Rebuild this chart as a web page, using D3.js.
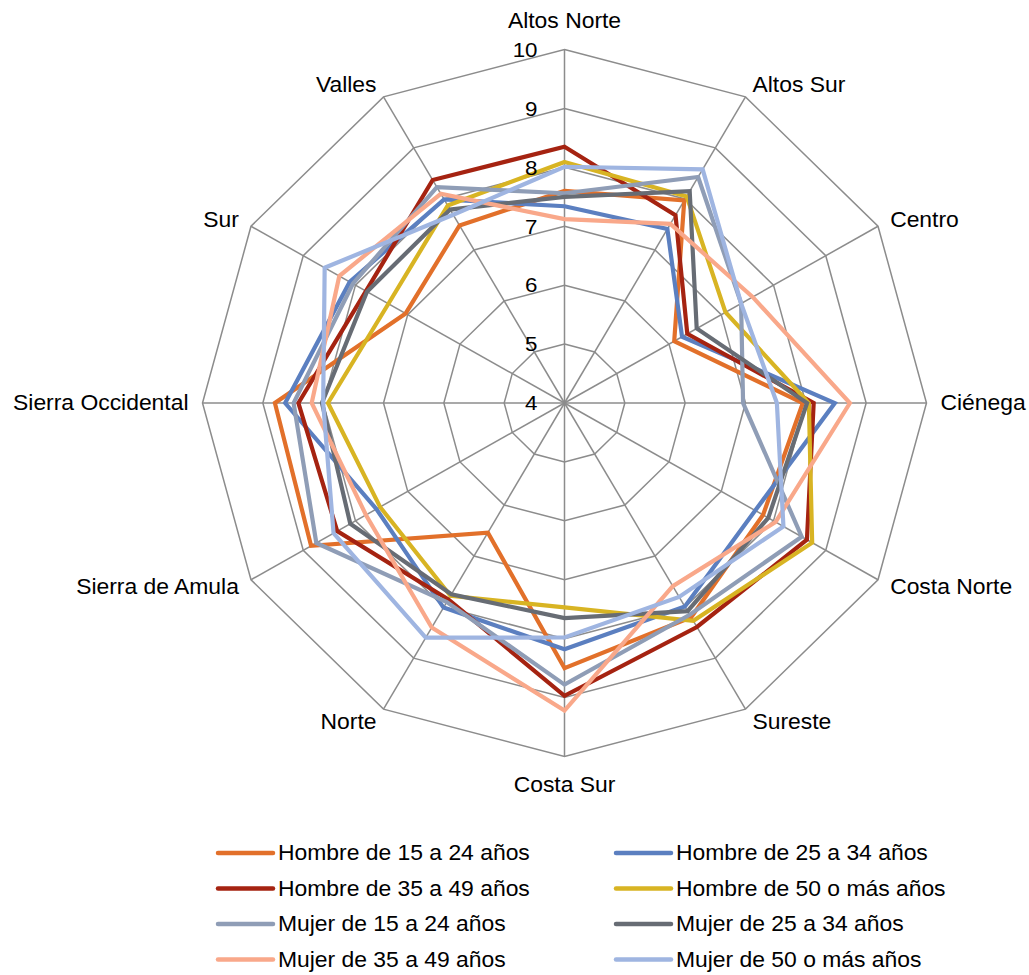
<!DOCTYPE html>
<html><head><meta charset="utf-8">
<script src="https://cdn.jsdelivr.net/npm/d3@7"></script>
<style>
html,body{margin:0;padding:0;background:#fff;}
svg{display:block;font-family:"Liberation Sans",Arial,sans-serif;}
</style></head>
<body><svg id="chart" width="1029" height="975"></svg>
<script>
const categories = ["Altos Norte","Altos Sur","Centro","Ciénega","Costa Norte","Sureste","Costa Sur","Norte","Sierra de Amula","Sierra Occidental","Sur","Valles"];
const tickValues = [4,5,6,7,8,9,10];
const seriesNames = ["Hombre de 15 a 24 años","Hombre de 25 a 34 años","Hombre de 35 a 49 años","Hombre de 50 o más años","Mujer de 15 a 24 años","Mujer de 25 a 34 años","Mujer de 35 a 49 años","Mujer de 50 o más años"];
const hombre15 = [7.6, 7.97, 6.1, 7.95, 7.8, 8.2, 8.5, 6.54, 8.85, 8.8, 7.04, 7.48];
const hombre25 = [7.34, 7.41, 6.25, 8.48, 7.65, 7.99, 8.18, 8.01, 7.6, 8.63, 8.11, 7.99];
const hombre35 = [8.35, 7.68, 6.35, 8.13, 8.64, 8.39, 8.97, 7.85, 8.35, 8.41, 7.8, 8.37];
const hombre50 = [8.09, 8.05, 7.08, 8.05, 8.74, 8.27, 7.47, 7.78, 7.53, 7.92, 7.37, 7.87];
const mujer15 = [7.56, 8.43, 7.38, 6.96, 8.54, 8.15, 8.78, 7.9, 8.75, 8.49, 8.05, 8.23];
const mujer25 = [7.5, 8.15, 6.53, 8.02, 7.9, 8.08, 7.65, 7.75, 8.1, 8.02, 7.78, 7.79];
const mujer35 = [7.12, 7.51, 7.6, 8.73, 8.04, 7.59, 9.22, 8.4, 7.8, 8.19, 8.31, 8.1];
const mujer50 = [8.01, 8.58, 7.38, 7.52, 8.19, 7.8, 7.98, 8.6, 8.42, 8.0, 8.59, 7.69];
const colors = ["#E2702A","#5B7FC0","#A52311","#D8B423","#8F9DB6","#676C74","#F9A88A","#9FB5E1"];

const seriesValues = [hombre15,hombre25,hombre35,hombre50,mujer15,mujer25,mujer35,mujer50];

const svg = d3.select("#chart");
const cx = 564.5, cy = 403, rx = 362, ry = 353.5;
const rScale = d3.scaleLinear().domain([4,10]).range([0,1]);
const angle = d3.scalePoint().domain(categories).range([0, 2*Math.PI*(11/12)]);
const px = (cat, v) => cx + rx * rScale(v) * Math.sin(angle(cat));
const py = (cat, v) => cy - ry * rScale(v) * Math.cos(angle(cat));

function addText(x, y, txt, anchor, size) {
  svg.append("text")
    .attr("transform", `translate(${x},${y}) scale(1.065,1)`)
    .attr("x",0).attr("y",0)
    .attr("text-anchor",anchor).attr("dominant-baseline","central")
    .attr("font-size",size).attr("fill","#000").text(txt);
}

const grid = svg.append("g");
tickValues.slice(1).forEach(t => {
  const pts = categories.map(c => [px(c,t), py(c,t)]);
  grid.append("path").attr("d", d3.line()(pts) + "Z")
    .attr("fill","none").attr("stroke","#8c8c8c").attr("stroke-width",1.5);
});
categories.forEach(c => {
  grid.append("line").attr("x1",cx).attr("y1",cy)
    .attr("x2",px(c,10)).attr("y2",py(c,10))
    .attr("stroke","#8c8c8c").attr("stroke-width",1.5);
});
// category labels
categories.forEach(c => {
  const a = angle(c), s = Math.sin(a), co = Math.cos(a);
  let x = px(c,10) + 14*s, y = py(c,10) - 14*co;
  let anchor = "middle";
  if (Math.abs(s) < 0.1) { y -= co*14.5; } else anchor = s > 0 ? "start" : "end";
  addText(x, y, c, anchor, 21.5);
});
// series
const lineGen = d3.line().x(d => px(d.c, d.v)).y(d => py(d.c, d.v));
seriesValues.forEach((vals, i) => {
  const pts = categories.map((c, j) => ({c, v: vals[j]}));
  svg.append("path").attr("d", lineGen(pts) + "Z")
    .attr("fill","none").attr("stroke",colors[i]).attr("stroke-width",4.2)
    .attr("stroke-linejoin","miter");
});
// tick labels (on top of series)
tickValues.forEach(t => addText(cx - 27, py(categories[0], t), t, "end", 21));
// legend
const legX = [218, 616], legY = [853, 888.5, 924, 959.5];
seriesNames.forEach((n, i) => {
  const col = i % 2, row = Math.floor(i/2);
  svg.append("line").attr("x1",legX[col]).attr("x2",legX[col]+55)
    .attr("y1",legY[row]).attr("y2",legY[row])
    .attr("stroke",colors[i]).attr("stroke-width",4.5).attr("stroke-linecap","round");
  addText(legX[col]+60, legY[row], n, "start", 21.5);
});
</script></body></html>
